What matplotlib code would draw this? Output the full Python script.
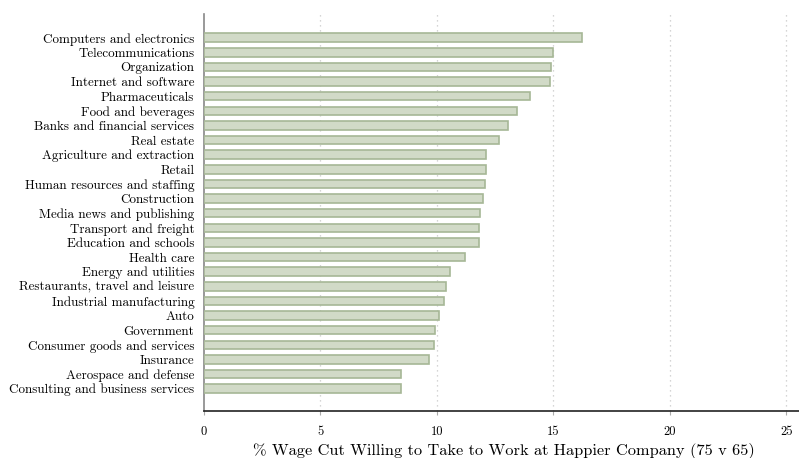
import matplotlib.pyplot as plt
import numpy as np

industries = ["Computers and electronics", "Telecommunications", "Organization",
              "Internet and software", "Pharmaceuticals", "Food and beverages",
              "Banks and financial services", "Real estate", "Agriculture and extraction",
              "Retail", "Human resources and staffing", "Construction",
              "Media news and publishing", "Transport and freight", "Education and schools",
              "Health care", "Energy and utilities", "Restaurants, travel and leisure",
              "Industrial manufacturing", "Auto", "Government", "Consumer goods and services",
              "Insurance", "Aerospace and defense", "Consulting and business services"]
wage_cut = [16.24, 15.0, 14.88, 14.86, 14.02, 13.46, 13.05, 12.65, 12.13, 12.12,
            12.07, 12.0, 11.86, 11.83, 11.82, 11.22, 10.55, 10.40, 10.32, 10.07,
            9.93, 9.89, 9.66, 8.48, 8.44]
xticks = [0, 5, 10, 15, 20, 25]

plt.rcParams['font.family'] = ['cmr10', 'DejaVu Serif']
plt.rcParams['axes.formatter.use_mathtext'] = True

fig = plt.figure(figsize=(7.99, 4.58), dpi=100)
ax = fig.add_axes([204/799, 1-411/458, 595/799, 397/458])

pos = np.arange(len(industries))
ax.barh(pos, wage_cut, height=0.58, color='#d1dac7', edgecolor='#a6b796', linewidth=1.2, zorder=3)

ax.set_ylim(25.53, -1.62)
ax.set_xlim(0, 25.55)
ax.set_yticks(pos)
ax.set_yticklabels(industries, fontsize=9.45)
ax.set_xticks(xticks)
ax.set_xticklabels([str(t) for t in xticks], fontsize=9)
ax.tick_params(axis='y', length=0, pad=7)
ax.tick_params(axis='x', length=3, width=0.8, color='#aaaaaa', pad=8)

for t in xticks[1:]:
    ax.axvline(t, color='#c8c8c8', linestyle=(0, (1, 3)), linewidth=0.9, zorder=1)

ax.spines['top'].set_visible(False)
ax.spines['right'].set_visible(False)
ax.spines['left'].set_color('#888888')
ax.spines['left'].set_linewidth(1.2)
ax.spines['bottom'].set_color('#222222')
ax.spines['bottom'].set_linewidth(1.2)

fig.text(503.5/799, 1-455/458, '% Wage Cut Willing to Take to Work at Happier Company (75 v 65)',
         fontsize=11.75, ha='center', va='baseline')

fig.savefig('out.png', dpi=100)
